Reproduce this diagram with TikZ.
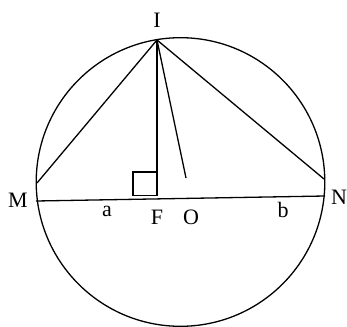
\documentclass[tikz,border=0pt]{standalone}
\usepackage{fontspec}
\setmainfont{Liberation Serif}
\begin{document}
\begin{tikzpicture}[x=1pt,y=-1pt,
  geo/.style={line width=1.3pt,black},
  lbl/.style={font=\fontsize{22}{22}\selectfont,inner sep=0pt,anchor=center}]
\useasboundingbox (0,0) rectangle (347,326);
% points
\coordinate (C) at (180.5,182);
\coordinate (I) at (157,40);
\coordinate (Mb) at (36,201);
\coordinate (Nb) at (325,196);
\coordinate (Mt) at (37,183);
\coordinate (Nt) at (324,179);
\coordinate (F) at (157,195.5);
\coordinate (Oe) at (186,178);
% circle
\draw[geo] (C) circle (144.3);
% lines
\draw[geo] (Mb) -- (Nb);
\draw[geo] (I) -- (Mt);
\draw[geo] (I) -- (Nt);
\draw[geo] (I) -- (F);
\draw[geo] (I) -- (Oe);
% right angle mark
\draw[geo] (157,172) -- (133,172) -- (133,195.5) -- (157,195.5);
% labels
\node[lbl] (lI) at (157,20) {I};
\node[lbl] (lM) at (18,200) {M};
\node[lbl] (lN) at (339,197) {N};
\node[lbl] (la) at (107,211) {a};
\node[lbl] (lF) at (157,217) {F};
\node[lbl] (lO) at (191,217) {O};
\node[lbl] (lb) at (283,210) {b};
\end{tikzpicture}
\end{document}
